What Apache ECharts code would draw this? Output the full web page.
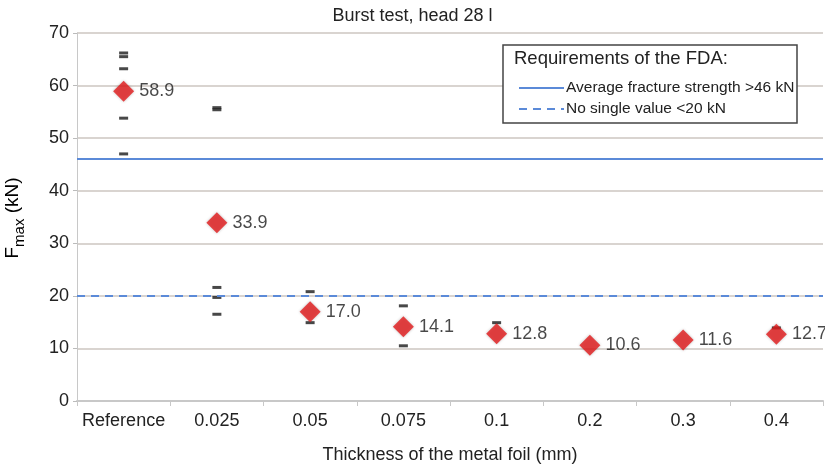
<!DOCTYPE html>
<html>
<head>
<meta charset="utf-8">
<script src="https://cdn.jsdelivr.net/npm/echarts@6/dist/echarts.min.js"></script>
<style>
  html, body { margin: 0; padding: 0; background: #fff; }
  #chart { width: 825px; height: 472px; }
</style>
</head>
<body>
<div id="chart"></div>
<script>
// categories on the x axis
const thickness = ['Reference', '0.025', '0.05', '0.075', '0.1', '0.2', '0.3', '0.4'];
// mean fracture strength per category (kN)
const meanForce = [58.9, 33.9, 17.0, 14.1, 12.8, 10.6, 11.6, 12.7];
// single measured values that stick out of the diamonds, per category
const singleRef = [66.2, 65.5, 63.2, 53.8, 47.0];
const single025 = [55.8, 55.4, 21.6, 19.7, 16.5];
const single05 = [20.8, 14.9];
const single075 = [18.1, 10.5];
const single01 = [14.9];
const single04 = [13.9];
// FDA limits
const avgLimit = 46;
const singleLimit = 20;

const singles = [singleRef, single025, single05, single075, single01, [], [], single04];
const singlePoints = [];
singles.forEach((vals, i) => {
  vals.forEach(v => singlePoints.push([i, v]));
});

const font = "'Liberation Sans', Arial, sans-serif";
const blue = '#5b8ad8';

const chart = echarts.init(document.getElementById('chart'));
chart.setOption({
  animation: false,
  textStyle: {fontFamily: font},
  title: {
    text: 'Burst test, head 28 l',
    left: 'center',
    top: 2,
    textStyle: {fontSize: 18, fontWeight: 'normal', color: '#222', fontFamily: font}
  },
  grid: {left: 77, right: 2, top: 33, bottom: 71},
  legend: {
    orient: 'vertical',
    left: 513,
    top: 75,
    itemGap: 5,
    itemWidth: 45,
    itemHeight: 10,
    itemStyle: {opacity: 0},
    textStyle: {fontSize: 15.5, color: '#222', padding: [0, 0, 0, -3]},
    data: ['Average fracture strength >46 kN', 'No single value <20 kN'],
    z: 20
  },
  graphic: [
    {
      type: 'rect',
      shape: {x: 503, y: 45, width: 294, height: 78},
      style: {fill: '#fff', stroke: '#444', lineWidth: 1.5},
      z: 15
    },
    {
      type: 'text',
      x: 514, y: 49,
      style: {text: 'Requirements of the FDA:', font: '18.5px ' + font, fill: '#222'},
      z: 16
    },
    {
      type: 'text',
      x: 15, y: 218,
      rotation: Math.PI / 2,
      style: {
        text: '{a|F}{s|max}{a| (kN)}',
        rich: {
          a: {fontSize: 19, fontFamily: font, color: '#222', verticalAlign: 'top', lineHeight: 24},
          s: {fontSize: 15, fontFamily: font, color: '#222', verticalAlign: 'bottom', lineHeight: 24, padding: [7, 0, 0, 0]}
        },
        align: 'center',
        verticalAlign: 'middle'
      },
      z: 16
    }
  ],
  xAxis: {
    type: 'category',
    data: thickness,
    name: 'Thickness of the metal foil (mm)',
    nameLocation: 'middle',
    nameGap: 45,
    nameTextStyle: {fontSize: 18, color: '#222'},
    axisLine: {lineStyle: {color: '#c8c8c8', width: 2}},
    axisTick: {show: true, length: 5, lineStyle: {color: '#c8c8c8'}},
    axisLabel: {fontSize: 18, color: '#222', margin: 11, interval: 0}
  },
  yAxis: {
    type: 'value',
    min: 0,
    max: 70,
    interval: 10,
    axisLine: {show: true, lineStyle: {color: '#c8c8c8'}},
    axisTick: {show: true, length: 4, lineStyle: {color: '#bbb'}},
    axisLabel: {fontSize: 18, color: '#222', margin: 8},
    splitLine: {lineStyle: {color: '#d9d4d0', width: 2}}
  },
  series: [
    {
      name: 'Average fracture strength >46 kN',
      type: 'line',
      data: [],
      symbol: 'none',
      color: blue,
      lineStyle: {color: blue, width: 2},
      markLine: {
        silent: true,
        symbol: 'none',
        label: {show: false},
        lineStyle: {color: blue, width: 2, type: 'solid'},
        data: [{yAxis: avgLimit}]
      }
    },
    {
      name: 'No single value <20 kN',
      type: 'line',
      data: [],
      symbol: 'none',
      color: blue,
      lineStyle: {color: blue, width: 2, type: [8, 6]},
      markLine: {
        silent: true,
        symbol: 'none',
        label: {show: false},
        lineStyle: {color: blue, width: 2, type: [8, 6]},
        data: [{yAxis: singleLimit}]
      }
    },
    {
      name: 'single',
      type: 'scatter',
      data: singlePoints,
      symbol: 'rect',
      symbolSize: [9, 3],
      itemStyle: {color: '#1a1a1a'},
      z: 3
    },
    {
      name: 'mean',
      type: 'scatter',
      data: meanForce,
      symbol: 'diamond',
      symbolSize: 21,
      itemStyle: {
        color: '#e41a1c',
        shadowColor: 'rgba(0,0,0,0.3)',
        shadowBlur: 3
      },
      label: {
        show: true,
        position: 'right',
        distance: 5,
        fontSize: 18,
        color: '#1a1a1a',
        formatter: p => p.value.toFixed(1)
      },
      z: 4
    }
  ]
});
</script>
</body>
</html>
